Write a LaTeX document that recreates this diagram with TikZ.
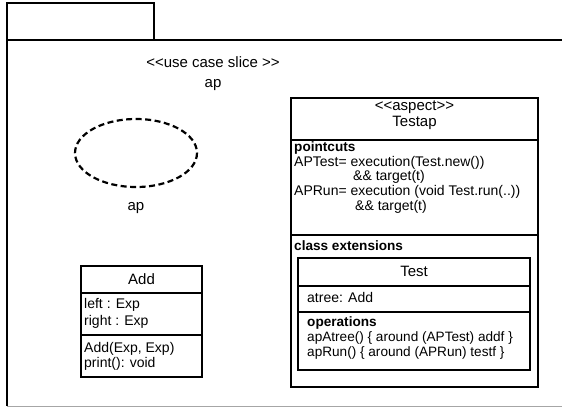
\documentclass[tikz,border=0pt]{standalone}
\usepackage{fontspec}
\setmainfont{Liberation Sans}
\newcommand{\classframe}[5]{
    \draw[boxline] (#1, #2) rectangle (#3, #4);
    \foreach \d in {#5} {
        \draw[boxline] (#1, \d) -- (#3, \d);
    }
}
\newcommand{\guil}[1]{<\kern0pt<#1>\kern0pt>}
\tikzset{
    boxline/.style={line width=1.6pt},
    pkgline/.style={line width=1.6pt},
    usecase/.style={line width=2.2pt, dash pattern=on 6pt off 3.5pt},
    bigtext/.style={font=\fontsize{15}{17}\selectfont, inner sep=0pt, anchor=base},
    smalltext/.style={font=\fontsize{14}{16}\selectfont, inner sep=0pt, anchor=base west},
    optext/.style={smalltext, font=\fontsize{13.6}{16}\selectfont},
    boldtext/.style={smalltext, font=\fontsize{13.6}{16}\selectfont\bfseries}
}

\begin{document}
\begin{tikzpicture}[x=1pt, y=-1pt]
    \useasboundingbox (0, 0) rectangle (562, 408);

    % package
    \draw[pkgline] (7, 3) rectangle (154, 40);
    \draw[pkgline] (154, 40) -- (562, 40);
    \draw[pkgline] (7, 40) -- (7, 406);
    \draw[line width=1.2pt, black!35] (7, 406.5) -- (562, 406.5);

    \node[bigtext] (stereo) at (213, 67) {\guil{use case slice }};
    \node[bigtext] (slicename) at (213, 87) {ap};

    % use case
    \draw[usecase] (136, 153) ellipse (61 and 34);
    \node[bigtext] (ucname) at (136, 210) {ap};

    % class Add
    \classframe{81}{266}{202}{377}{293, 335}
    \node[bigtext] (addname) at (141.5, 284) {Add};
    \node[smalltext] (addleft) at (84, 308) {left : Exp};
    \node[smalltext] (addright) at (84, 325.5) {right : Exp};
    \node[smalltext] (addctor) at (84, 352) {Add(Exp, Exp)};
    \node[smalltext] (addprint) at (84, 367) {print(): void};

    % aspect Testap
    \classframe{291}{98}{538}{387}{140, 235}
    \node[bigtext] (aspstereo) at (414.5, 110) {\guil{aspect}};
    \node[bigtext] (aspname) at (414.5, 126) {Testap};
    \node[boldtext] (pointcuts) at (294, 151) {pointcuts};
    \node[smalltext] (aptest) at (294, 166) {APTest= execution(Test.new())};
    \node[smalltext] (aptestt) at (353, 180.5) {\&\& target(t)};
    \node[smalltext] (aprun) at (294, 195) {APRun= execution (void Test.run(..))};
    \node[smalltext] (aprunt) at (355, 210) {\&\& target(t)};
    \node[boldtext] (classext) at (294, 250) {class extensions};

    % class Test
    \classframe{298}{258}{530}{370}{286, 312}
    \node[bigtext] (testname) at (414, 276) {Test};
    \node[smalltext] (atree) at (307, 302) {atree: Add};
    \node[boldtext] (operations) at (307, 326) {operations};
    \node[optext] (apatree) at (307, 341) {apAtree() \{ around (APTest) addf \}};
    \node[optext] (aprunop) at (307, 356) {apRun() \{ around (APRun) testf \}};
\end{tikzpicture}
\end{document}
